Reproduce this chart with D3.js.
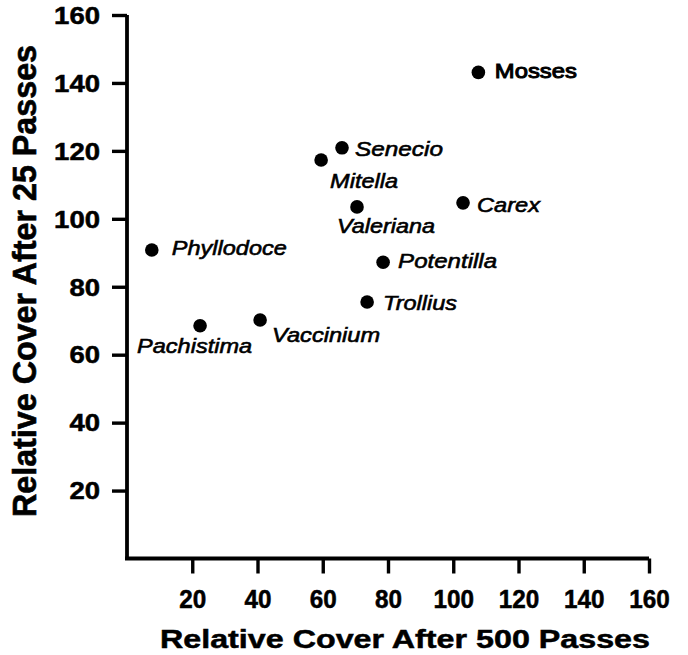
<!DOCTYPE html>
<html>
<head>
<meta charset="utf-8">
<script src="https://cdn.jsdelivr.net/npm/d3@7"></script>
<style>
  html, body { margin: 0; padding: 0; background: #fff; }
  svg { display: block; font-family: "Liberation Sans", Arial, Helvetica, sans-serif; }
</style>
</head>
<body>
<svg id="chart" width="688" height="655"></svg>
<script>
// ---- data ----
const species = ["Mosses", "Senecio", "Mitella", "Valeriana", "Carex", "Phyllodoce", "Potentilla", "Trollius", "Pachistima", "Vaccinium"];
const cover500 = [107.7, 65.9, 59.5, 70.5, 103.0, 7.6, 78.5, 73.6, 22.4, 40.8];
const cover25  = [143.1, 120.9, 117.3, 103.5, 104.7, 90.8, 87.2, 75.5, 68.5, 70.2];
const italicName = [false, true, true, true, true, true, true, true, true, true];
const xTicks = [20, 40, 60, 80, 100, 120, 140, 160];
const yTicks = [20, 40, 60, 80, 100, 120, 140, 160];
const xTitle = "Relative Cover After 500 Passes";
const yTitle = "Relative Cover After 25 Passes";

// label placement (offset from point, px) and width
const labelDx = [16.5, 13, 9, -20, 14, 20, 15, 16, -63, 12];
const labelDy = [5.5, 8.5, 28, 26, 9, 5, 6, 8, 27, 22];
const labelW  = [82, 88, 68, 98, 63, 115, 99, 74, 115, 108];

const svg = d3.select("#chart");
const x = d3.scaleLinear().domain([0, 160]).range([127, 649]);
const y = d3.scaleLinear().domain([0, 160]).range([558.5, 15]);

// axes
const gx = svg.append("g").attr("transform", `translate(0,${y(0)})`)
  .call(d3.axisBottom(x).tickValues(xTicks).tickSize(15).tickSizeOuter(0).tickPadding(17));
const gy = svg.append("g").attr("transform", `translate(${x(0)},0)`)
  .call(d3.axisLeft(y).tickValues(yTicks).tickSize(15).tickSizeOuter(0).tickPadding(12));

[gx, gy].forEach(g => {
  g.select(".domain").attr("stroke", "#000").attr("stroke-width", 3.8);
  g.selectAll(".tick line").attr("stroke", "#000").attr("stroke-width", 3.4);
  g.selectAll(".tick text").attr("fill", "#000").attr("font-weight", "bold")
    .attr("stroke", "#000").attr("stroke-width", 0.5)
    .attr("font-family", "'Liberation Sans', Arial, sans-serif");
});
gx.select(".domain").attr("d", `M${x(0) - 2},0H${x(160)}`);
gy.select(".domain").attr("d", `M0,${y(0) + 1.5}V${y(160)}`);

gx.selectAll(".tick text")
  .attr("font-size", 25)
  .attr("dy", "0.71em")
  .attr("textLength", d => String(d).length * 13.5)
  .attr("lengthAdjust", "spacingAndGlyphs");
gy.selectAll(".tick text")
  .attr("font-size", 23)
  .attr("dy", "0.36em")
  .attr("textLength", d => String(d).length * 15.3)
  .attr("lengthAdjust", "spacingAndGlyphs");

// titles
svg.append("text")
  .attr("x", 160).attr("y", 648)
  .attr("font-size", 26).attr("font-weight", "bold")
  .attr("stroke", "#000").attr("stroke-width", 0.5)
  .attr("textLength", 490).attr("lengthAdjust", "spacingAndGlyphs")
  .text(xTitle);

svg.append("text")
  .attr("transform", "translate(36,517) rotate(-90) scale(1,1.25)")
  .attr("x", 0).attr("y", 0)
  .attr("font-size", 26).attr("font-weight", "bold")
  .attr("stroke", "#000").attr("stroke-width", 0.5)
  .attr("textLength", 472).attr("lengthAdjust", "spacingAndGlyphs")
  .text(yTitle);

// points
const data = species.map((s, i) => ({ name: s, x: cover500[i], y: cover25[i], it: italicName[i], dx: labelDx[i], dy: labelDy[i], w: labelW[i] }));

svg.append("g").selectAll("circle").data(data).join("circle")
  .attr("cx", d => x(d.x)).attr("cy", d => y(d.y)).attr("r", 6.8).attr("fill", "#000");

svg.append("g").selectAll("text").data(data).join("text")
  .attr("x", d => x(d.x) + d.dx).attr("y", d => y(d.y) + d.dy)
  .attr("font-size", 21)
  .attr("font-style", d => d.it ? "italic" : "normal")
  .attr("font-weight", "normal")
  .attr("stroke", "#000")
  .attr("stroke-width", d => d.it ? 0.6 : 1.0)
  .attr("textLength", d => d.w).attr("lengthAdjust", "spacingAndGlyphs")
  .text(d => d.name);
</script>
</body>
</html>
